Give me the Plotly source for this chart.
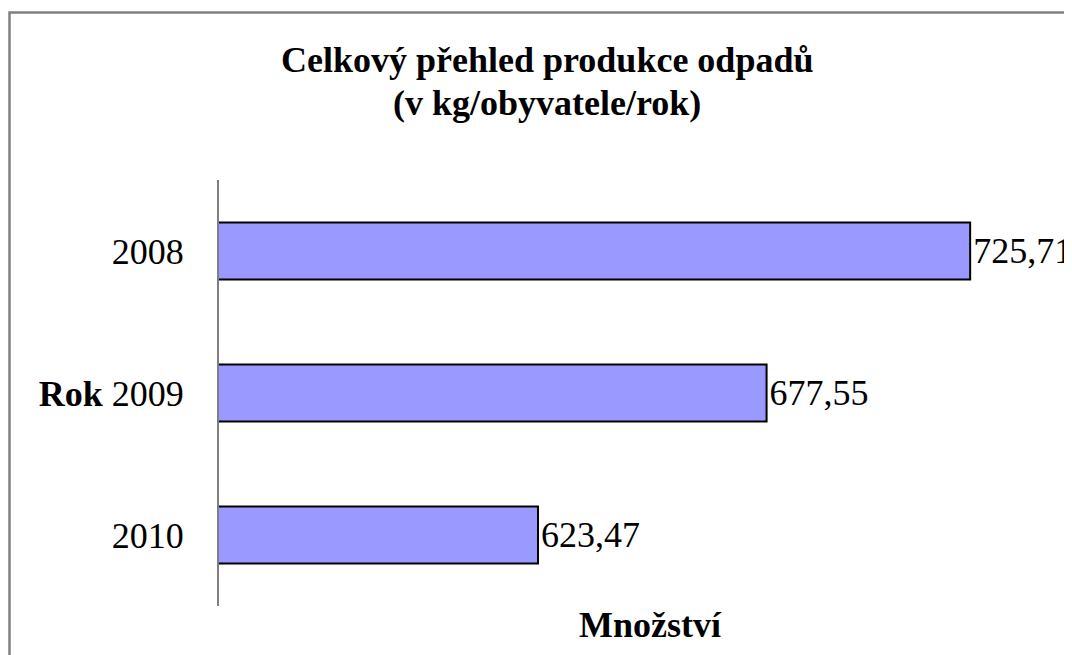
import plotly.graph_objects as go

years = ["2008", "2009", "2010"]
tick_labels = ["2008", "<b>Rok</b> 2009", "2010"]
values = [725.71, 677.55, 623.47]
title_lines = ["Celkový přehled produkce odpadů", "(v kg/obyvatele/rok)"]
x_title = "Množství"

FONT = "Liberation Serif"
W, H = 1072, 655
OFF = 8  # page body margin: figure is drawn 8px right/down of the window corner
L, R, T, B = 219 - OFF, 0, 180 - OFF, 65 - OFF
PW, PH = W - L - R, H - T - B


def px_x(sx):
    return (sx - OFF - L) / PW


def px_y(sy):
    return (H - B - (sy - OFF)) / PH


labels = [f"{v:.2f}".replace(".", ",") for v in values]

fig = go.Figure(go.Bar(
    y=years, x=values, orientation="h",
    marker=dict(color="#9999FF", line=dict(color="#000000", width=2)),
    text=labels, textposition="outside", cliponaxis=False,
    constraintext="none",
    textfont=dict(family=FONT, size=36, color="#000000"),
    hoverinfo="skip",
))

fig.update_layout(
    width=W, height=H,
    margin=dict(l=L, r=R, t=T, b=B, pad=0),
    paper_bgcolor="white", plot_bgcolor="white",
    bargap=0.6,
    showlegend=False,
    font=dict(family=FONT, color="#000000"),
    xaxis=dict(range=[548, 751.7], visible=False, fixedrange=True),
    yaxis=dict(
        categoryorder="array", categoryarray=years, autorange="reversed",
        tickvals=years, ticktext=tick_labels,
        tickfont=dict(family=FONT, size=36, color="#000000"),
        showline=True, linecolor="#808080", linewidth=2,
        ticks="", ticklabelstandoff=26,
        showgrid=False, zeroline=False,
    ),
)

bold_font = dict(family=FONT, size=36, color="#000000", weight="bold")

# title, two lines
for line, sy in zip(title_lines, [60, 103]):
    fig.add_annotation(
        text=line, xref="paper", yref="paper",
        x=px_x(547), y=px_y(sy),
        xanchor="center", yanchor="middle", showarrow=False,
        font=bold_font,
    )

# x-axis title
fig.add_annotation(
    text=x_title, xref="paper", yref="paper",
    x=px_x(650), y=px_y(625),
    xanchor="center", yanchor="middle", showarrow=False,
    font=bold_font,
)

# chart border (extends past the right and bottom edges)
fig.add_shape(
    type="rect", xref="paper", yref="paper",
    x0=px_x(9.5), x1=px_x(1120),
    y0=px_y(720), y1=px_y(12.5),
    line=dict(color="#808080", width=2.5), fillcolor="rgba(0,0,0,0)",
    layer="below",
)

fig.write_html("out.html")
